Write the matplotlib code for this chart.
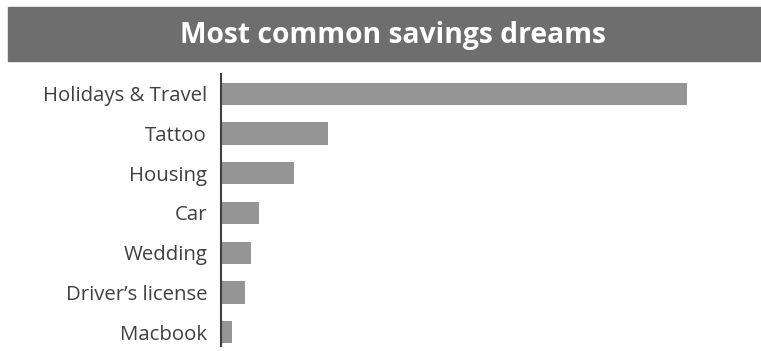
import matplotlib
matplotlib.use("Agg")
import matplotlib.pyplot as plt
from matplotlib.patches import Rectangle

categories = ["Holidays & Travel", "Tattoo", "Housing", "Car", "Wedding",
              "Driver\u2019s license", "Macbook"]
values = [46.6, 10.7, 7.3, 3.8, 3.0, 2.4, 1.1]

fig = plt.figure(figsize=(7.61, 3.51), dpi=100)

# title band
fig.patches.append(Rectangle((8 / 761, 1 - 61 / 351), 1 - 8 / 761, 54 / 351,
                             transform=fig.transFigure, color="#6e6e6e", zorder=0))
fig.text(393 / 761, 1 - 36 / 351, "Most common savings dreams",
         ha="center", va="center", color="white", fontsize=20.3, fontweight="bold",
         family="Open Sans")

ax = fig.add_axes([221 / 761, 5 / 351, 500 / 761, 272 / 351])
ax.barh(range(len(categories)), values, height=0.56, color="#959595")
ax.set_xlim(0, 50)
ax.set_ylim(6.35, -0.5)
ax.set_yticks(range(len(categories)))
ax.set_yticklabels(categories, fontsize=14.7, color="#404040", family="Open Sans")
ax.tick_params(axis="y", length=0, pad=10)
ax.set_xticks([])
for s in ["top", "right", "bottom"]:
    ax.spines[s].set_visible(False)
ax.spines["left"].set_color("#404040")
ax.spines["left"].set_linewidth(1.5)

fig.savefig("out.png", dpi=100)
